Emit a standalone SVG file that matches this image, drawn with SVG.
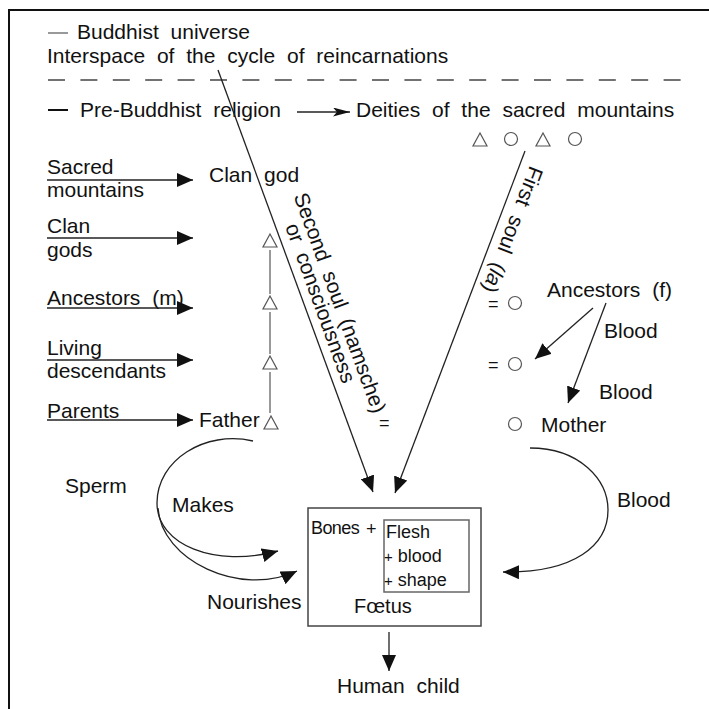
<svg xmlns="http://www.w3.org/2000/svg" width="709" height="709" viewBox="0 0 709 709">
<style>
text{font-family:"Liberation Sans",Arial,sans-serif;fill:#111;}
.t{font-size:21px;word-spacing:6px;}
.s{font-size:18px;}
.ln{fill:none;stroke:#222;stroke-width:1.3;}
.sym{fill:none;stroke:#555;stroke-width:1.2;}
</style>
<defs>
<marker id="ah" markerUnits="userSpaceOnUse" markerWidth="18" markerHeight="14" refX="16" refY="7" orient="auto">
<path d="M0,0 L16,7 L0,14 Z" fill="#111"/>
</marker>
<marker id="ahs" markerUnits="userSpaceOnUse" markerWidth="18" markerHeight="10" refX="17" refY="4.5" orient="auto">
<path d="M0,0 L17,4.5 L0,9 L4,4.5 Z" fill="#111"/>
</marker>
<path id="tri" d="M0,-7 L7,6 L-7,6 Z"/>
</defs>
<rect x="9" y="10" width="730" height="730" fill="#fff" stroke="#111" stroke-width="2"/>

<g id="header">
<line x1="48" y1="33" x2="68" y2="33" stroke="#999" stroke-width="2"/>
<text class="t" x="77" y="39">Buddhist universe</text>
<text class="t" x="47" y="63">Interspace of the cycle of reincarnations</text>
<line x1="48" y1="80" x2="686" y2="80" stroke="#444" stroke-width="1.3" stroke-dasharray="17,15.4"/>
<line x1="48" y1="110" x2="68" y2="110" stroke="#111" stroke-width="2"/>
<text class="t" x="80" y="117">Pre-Buddhist religion</text>
</g>

<g id="deities">
<text class="t" x="356" y="117">Deities of the sacred mountains</text>
<use href="#tri" x="480" y="140" class="sym"/>
<circle cx="511" cy="139" r="6.5" class="sym"/>
<use href="#tri" x="543" y="140" class="sym"/>
<circle cx="575" cy="139" r="6.5" class="sym"/>
</g>

<g id="left-labels">
<text class="t" x="47" y="174">Sacred</text>
<text class="t" x="47" y="197">mountains</text>
<text class="t" x="47" y="233">Clan</text>
<text class="t" x="47" y="257">gods</text>
<text class="t" x="47" y="305">Ancestors (m)</text>
<text class="t" x="47" y="355">Living</text>
<text class="t" x="47" y="378">descendants</text>
<text class="t" x="47" y="418">Parents</text>
</g>

<g id="clan-god"><text class="t" x="209" y="182">Clan god</text></g>
<g id="father"><text class="t" x="199" y="427">Father</text></g>

<g id="lineage-m">
<use href="#tri" x="270" y="241" class="sym"/>
<use href="#tri" x="270" y="303" class="sym"/>
<use href="#tri" x="270" y="363" class="sym"/>
<use href="#tri" x="271" y="423" class="sym"/>
<line x1="270" y1="250" x2="270" y2="294" class="sym"/>
<line x1="270" y1="312" x2="270" y2="354" class="sym"/>
<line x1="270" y1="372" x2="270" y2="413" class="sym"/>
</g>

<g id="lineage-f">
<text class="t" x="488" y="310" style="font-size:18px">=</text>
<circle cx="515" cy="303" r="6.5" class="sym"/>
<text class="t" x="488" y="371" style="font-size:18px">=</text>
<circle cx="515" cy="364" r="6.5" class="sym"/>
<circle cx="515" cy="424" r="6.5" class="sym"/>
<text class="t" x="379" y="429" style="font-size:18px">=</text>
</g>

<g id="ancestors-f"><text class="t" x="547" y="297">Ancestors (f)</text></g>
<g id="mother"><text class="t" x="541" y="432">Mother</text></g>

<g id="second-soul-label">
<text class="t" transform="translate(293.5,196) rotate(70)">Second soul (namsche)</text>
<text class="t" transform="translate(285,226.5) rotate(70)">or consciousness</text>
</g>
<g id="first-soul-label">
<text class="t" transform="translate(530,165) rotate(111)">First soul (<tspan font-style="italic">la</tspan>)</text>
</g>

<g id="edge-labels">
<text class="t" x="604" y="338">Blood</text>
<text class="t" x="599" y="399">Blood</text>
<text class="t" x="617" y="507">Blood</text>
<text class="t" x="65" y="493">Sperm</text>
<text class="t" x="172" y="512">Makes</text>
<text class="t" x="207" y="609">Nourishes</text>
</g>

<g id="foetus">
<rect x="308" y="508" width="173" height="118" fill="none" stroke="#444" stroke-width="1.5"/>
<rect x="384" y="520" width="85" height="72" fill="none" stroke="#666" stroke-width="1.5"/>
<text class="s" x="311" y="534" style="letter-spacing:-0.6px">Bones</text>
<text class="s" x="366" y="535">+</text>
<text class="s" x="386" y="538">Flesh</text>
<text class="s" x="384" y="562"><tspan font-size="15">+</tspan> blood</text>
<text class="s" x="384" y="586"><tspan font-size="15">+</tspan> shape</text>
<text class="t" x="354" y="613" style="font-size:20px">Fœtus</text>
</g>

<g id="human-child"><text class="t" x="337" y="693">Human child</text></g>

<g id="connectors">
<line x1="297" y1="112" x2="350" y2="112" class="ln" marker-end="url(#ahs)"/>
<line x1="47" y1="180" x2="193" y2="180" class="ln" marker-end="url(#ah)"/>
<line x1="47" y1="238" x2="193" y2="238" class="ln" marker-end="url(#ah)"/>
<line x1="47" y1="308" x2="193" y2="308" class="ln" marker-end="url(#ah)"/>
<line x1="47" y1="360" x2="193" y2="360" class="ln" marker-end="url(#ah)"/>
<line x1="47" y1="420" x2="193" y2="420" class="ln" marker-end="url(#ah)"/>
<line x1="218" y1="70" x2="373" y2="492" class="ln" marker-end="url(#ah)"/>
<line x1="525" y1="151" x2="395" y2="493" class="ln" marker-end="url(#ah)"/>
<line x1="593" y1="308" x2="535" y2="359" class="ln" marker-end="url(#ah)"/>
<line x1="606" y1="303" x2="568" y2="403" class="ln" marker-end="url(#ah)"/>
<path d="M253,441 C205,430 157,460 157,503 C157,545 215,568 278,551" class="ln" marker-end="url(#ah)"/>
<path d="M158,508 C161,560 240,598 297,571" class="ln" marker-end="url(#ah)"/>
<path d="M530,448 C580,448 608,480 608,510 C608,545 575,573 503,572" class="ln" marker-end="url(#ah)"/>
<line x1="389" y1="632" x2="389" y2="671" class="ln" marker-end="url(#ah)"/>
</g>
</svg>
